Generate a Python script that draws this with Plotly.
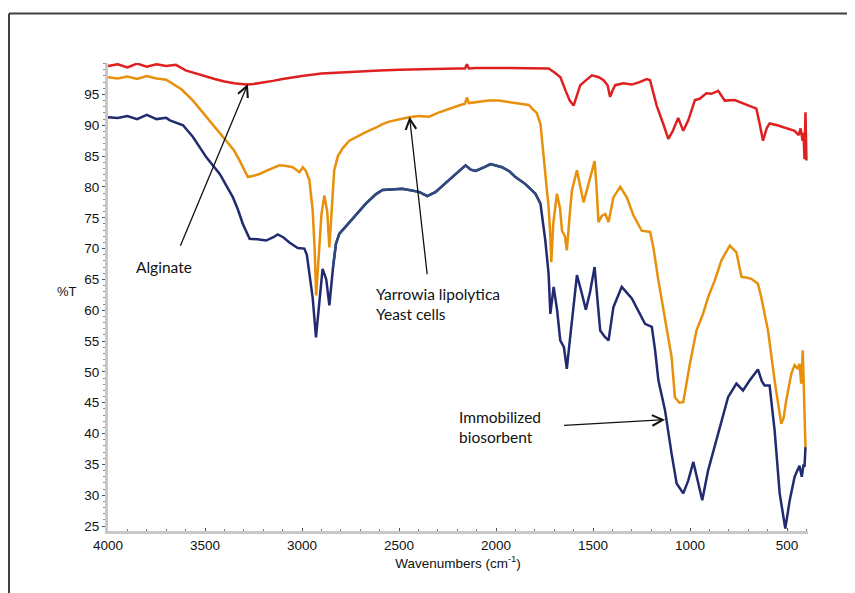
import numpy as np
import plotly.graph_objects as go

# ---------------- data ----------------
alg_w = [4000, 3950, 3900, 3850, 3800, 3750, 3700, 3650, 3600, 3550, 3500, 3450, 3400, 3350,
         3300, 3279, 3250, 3200, 3150, 3100, 3050, 3000, 2900, 2800, 2700, 2600, 2500, 2400,
         2300, 2200, 2160, 2150, 2140, 2100, 2000, 1900, 1800, 1750, 1729, 1700, 1668, 1640,
         1620, 1600, 1585, 1566, 1540, 1506, 1470, 1446, 1425, 1412, 1400, 1386, 1343, 1300,
         1260, 1223, 1206, 1172, 1138, 1112, 1090, 1061, 1035, 1009, 975, 950, 916, 890, 855,
         821, 770, 718, 658, 641, 624, 605, 590, 550, 513, 461, 440, 430, 420, 415, 410, 405, 400]
alg_t = [99.6, 99.9, 99.4, 100.0, 99.5, 99.9, 99.6, 99.8, 98.9, 98.4, 98.0, 97.5, 97.1, 96.8,
         96.65, 96.6, 96.7, 96.9, 97.2, 97.5, 97.8, 98.0, 98.4, 98.6, 98.8, 98.9, 99.0, 99.1,
         99.1, 99.2, 99.2, 99.9, 99.2, 99.3, 99.3, 99.3, 99.2, 99.3, 99.2, 98.6, 97.8, 95.5,
         94.0, 93.2, 94.5, 96.5, 97.2, 98.1, 97.8, 97.3, 96.5, 94.6, 95.6, 96.5, 96.8, 96.6,
         97.0, 97.5, 97.3, 93.2, 90.2, 87.8, 89.0, 91.2, 89.1, 90.8, 94.1, 94.3, 95.2, 95.1, 95.6,
         94.0, 94.1, 93.4, 92.7, 90.2, 87.5, 89.5, 90.3, 90.0, 89.6, 89.1, 88.4, 89.5, 87.5, 88.8,
         84.5, 92.1, 84.3]

yeast_w = [4000, 3950, 3900, 3850, 3800, 3750, 3700, 3681, 3620, 3562, 3520, 3476, 3430, 3390,
           3350, 3322, 3300, 3279, 3250, 3219, 3170, 3116, 3080, 3048, 3013, 2996, 2980, 2962,
           2945, 2935, 2927, 2915, 2900, 2885, 2870, 2859, 2845, 2834, 2815, 2790, 2756, 2705,
           2671, 2620, 2585, 2551, 2448, 2400, 2345, 2300, 2250, 2191, 2160, 2150, 2140, 2100,
           2037, 1986, 1934,
           1883, 1831, 1814, 1790, 1771, 1760, 1746, 1729, 1720, 1715, 1705, 1686, 1670, 1660,
           1645, 1635, 1620, 1609, 1583, 1565, 1549, 1523, 1505, 1492, 1482, 1472, 1455, 1437,
           1420, 1395, 1360, 1326, 1292, 1249, 1206, 1189, 1163, 1129, 1095, 1078, 1055, 1035,
           1001, 967, 933, 907, 873, 838, 795, 761, 735, 710, 684, 650, 633, 598, 564, 530, 518,
           504, 478, 461, 444, 436, 427, 419, 414, 410, 405]
yeast_t = [97.8, 97.6, 97.9, 97.5, 98.0, 97.6, 97.4, 97.0, 95.8, 94.0, 92.4, 90.8, 89.1, 87.5,
           85.9, 84.3, 82.9, 81.6, 81.8, 82.1, 82.8, 83.5, 83.4, 83.2, 82.4, 83.2, 82.6, 81.1,
           76.2, 70.0, 62.4, 68.0, 75.5, 78.6, 76.0, 70.2, 77.0, 82.7, 85.0, 86.3, 87.5, 88.4,
           88.9, 89.6, 90.2, 90.6, 91.3, 91.5, 91.4, 92.0, 92.6, 93.2, 93.5, 94.5, 93.6, 93.8,
           94.0, 94.0, 93.8,
           93.5, 93.3, 92.7, 92.0, 90.2, 86.5, 82.1, 76.7, 72.0, 67.8, 74.0, 78.9, 76.5, 72.9,
           72.0, 69.7, 75.5, 79.4, 82.7, 80.0, 77.5, 80.5, 82.5, 84.2, 80.0, 74.3, 75.3, 75.6,
           74.3, 78.3, 80.0, 78.3, 75.4, 72.9, 72.7, 70.2, 64.8, 58.4, 52.4, 45.9, 45.0, 45.1,
           51.3, 56.7, 59.4, 62.1, 64.8, 68.1, 70.5, 69.4, 65.4, 65.3, 65.1, 64.3, 62.1, 56.7,
           48.6, 41.6, 42.5, 45.4, 49.7, 51.1, 50.5, 51.3, 48.1, 53.5, 47.0, 45.4, 37.8]

imm_w = [4000, 3950, 3900, 3850, 3800, 3750, 3700, 3681, 3613, 3562, 3493, 3424, 3356, 3330,
         3305, 3270, 3230, 3185, 3150, 3125, 3095, 3065, 3022, 2988, 2975, 2962, 2945, 2928,
         2910, 2894, 2875, 2859, 2840, 2825, 2808, 2756, 2705, 2671, 2620, 2585, 2483, 2397,
         2354, 2311,
         2243, 2157, 2130, 2105, 2060, 2028, 1969, 1930, 1900, 1850, 1797, 1771, 1746, 1729,
         1720, 1703, 1685, 1669, 1650, 1635, 1620, 1609, 1583, 1560, 1537, 1515, 1492, 1478,
         1463, 1440, 1420, 1395, 1352, 1300, 1260, 1232, 1197, 1180, 1163, 1129, 1095, 1069,
         1035, 1009, 983, 958, 937, 907, 873, 838, 804, 761, 727, 693, 650, 630, 616, 590, 564,
         538, 509, 486, 461, 436, 424, 415, 410, 405]
imm_t = [91.3, 91.2, 91.5, 91.0, 91.7, 91.0, 91.2, 90.8, 90.0, 88.1, 84.8, 82.1, 78.3, 76.3,
         74.0, 71.6, 71.5, 71.3, 71.8, 72.3, 71.8, 71.0, 70.1, 70.0, 69.0, 65.9, 62.0, 55.6,
         62.0, 66.7, 65.0, 60.8, 67.0, 70.8, 72.4, 74.2, 76.0, 77.3, 78.8, 79.5, 79.7, 79.2,
         78.5, 79.2,
         81.1, 83.5, 82.8, 82.6, 83.2, 83.7, 83.2, 82.5, 81.6, 80.5, 78.9, 77.3, 71.3, 65.9,
         59.4, 63.8, 60.0, 55.1, 54.0, 50.5, 55.0, 58.4, 65.7, 63.0, 60.1, 63.0, 67.0, 62.0,
         56.7, 55.7, 55.1, 60.5, 63.8, 61.9, 59.5, 57.8, 57.3, 53.5, 48.6, 43.8, 36.7, 31.9,
         30.3, 32.4, 35.4, 31.9, 29.2, 34.0, 37.8, 42.1, 45.9, 48.1, 47.0, 48.6, 50.4, 48.5,
         47.8, 47.8, 40.5, 30.3, 24.6, 29.2, 33.0, 34.8, 33.0, 35.0, 34.6, 37.8]

y_ticks = [25, 30, 35, 40, 45, 50, 55, 60, 65, 70, 75, 80, 85, 90, 95]
x_ticks = [4000, 3500, 3000, 2500, 2000, 1500, 1000, 500]

RED = "#de2020"
ORANGE = "#e8900c"
NAVY = "#222a70"
STEEL = "#2f4a7d"

fig = go.Figure()
fig.add_trace(go.Scatter(x=alg_w, y=alg_t, mode="lines", line=dict(color=RED, width=2.5)))
fig.add_trace(go.Scatter(x=yeast_w, y=yeast_t, mode="lines", line=dict(color=ORANGE, width=2.5)))
fig.add_trace(go.Scatter(x=imm_w, y=imm_t, mode="lines", line=dict(color=NAVY, width=2.5)))
# mid-section of the immobilized curve is drawn in a slightly lighter blue
iw = np.array(imm_w)
it = np.array(imm_t)
mask = (iw <= 2840) & (iw >= 1771)
fig.add_trace(go.Scatter(x=iw[mask], y=it[mask], mode="lines", line=dict(color=STEEL, width=2.5)))

ann_font = dict(family="Lato, Open Sans, sans-serif", size=15.5, color="#111111")
arrow = dict(showarrow=True, arrowhead=5, arrowsize=1.6, arrowwidth=1.3, arrowcolor="#111111",
             axref="x", ayref="y", standoff=0)
annotations = [
    dict(x=3279, y=96.7, ax=3630, ay=70.2, text="", **arrow),
    dict(x=3712, y=67.0, text="Alginate", showarrow=False, font=ann_font, xanchor="center"),
    dict(x=2446, y=91.4, ax=2354, ay=65.6, text="", **arrow),
    dict(x=2628, y=64.5, text="Yarrowia lipolytica<br>Yeast cells", showarrow=False,
         font=ann_font, xanchor="left", yanchor="top", align="left"),
    dict(x=1129, y=42.25, ax=1657, ay=41.3, text="", **arrow),
    dict(x=2200, y=44.4, text="Immobilized<br>biosorbent", showarrow=False,
         font=ann_font, xanchor="left", yanchor="top", align="left"),
    dict(x=-0.0586, y=0.5107, xref="paper", yref="paper", text="%T", showarrow=False,
         font=dict(family="Liberation Sans, Arial, sans-serif", size=13, color="#111111"),
         xanchor="center", yanchor="middle"),
]

# frame around the figure (top and left edges visible)
shapes = [
    dict(type="line", xref="paper", yref="paper", x0=-0.1414, x1=1.08, y0=1.106, y1=1.106,
         line=dict(color="#404040", width=2)),
    dict(type="line", xref="paper", yref="paper", x0=-0.1414, x1=-0.1414, y0=1.106, y1=-0.15,
         line=dict(color="#404040", width=2)),
]

tick_font = dict(family="Liberation Sans, Arial, sans-serif", size=13.5, color="#111111")
# the page adds an 8px body margin; the figure is sized/offset to compensate
fig.update_layout(
    width=847, height=585,
    margin=dict(l=100, r=47, t=55, b=62),
    paper_bgcolor="white", plot_bgcolor="white",
    showlegend=False,
    annotations=annotations,
    shapes=shapes,
    xaxis=dict(
        range=[4000, 392], tickvals=x_ticks, showgrid=False, zeroline=False,
        showline=True, linecolor="#c8c8c8", linewidth=3,
        ticks="inside", ticklen=3, tickcolor="#555555", tickwidth=1,
        minor=dict(dtick=100, ticks="inside", ticklen=2, tickcolor="#777777", showgrid=False),
        tickfont=tick_font,
        title=dict(text="Wavenumbers (cm<sup>-1</sup>)", font=tick_font, standoff=6),
    ),
    yaxis=dict(
        range=[24.2, 100.1], tickvals=y_ticks, showgrid=False, zeroline=False,
        showline=True, linecolor="#c8c8c8", linewidth=3,
        ticks="outside", ticklen=3, tickcolor="#555555", tickwidth=1,
        minor=dict(dtick=1, ticks="outside", ticklen=2, tickcolor="#888888", showgrid=False),
        tickfont=tick_font,
    ),
)

fig.write_html("out.html")
